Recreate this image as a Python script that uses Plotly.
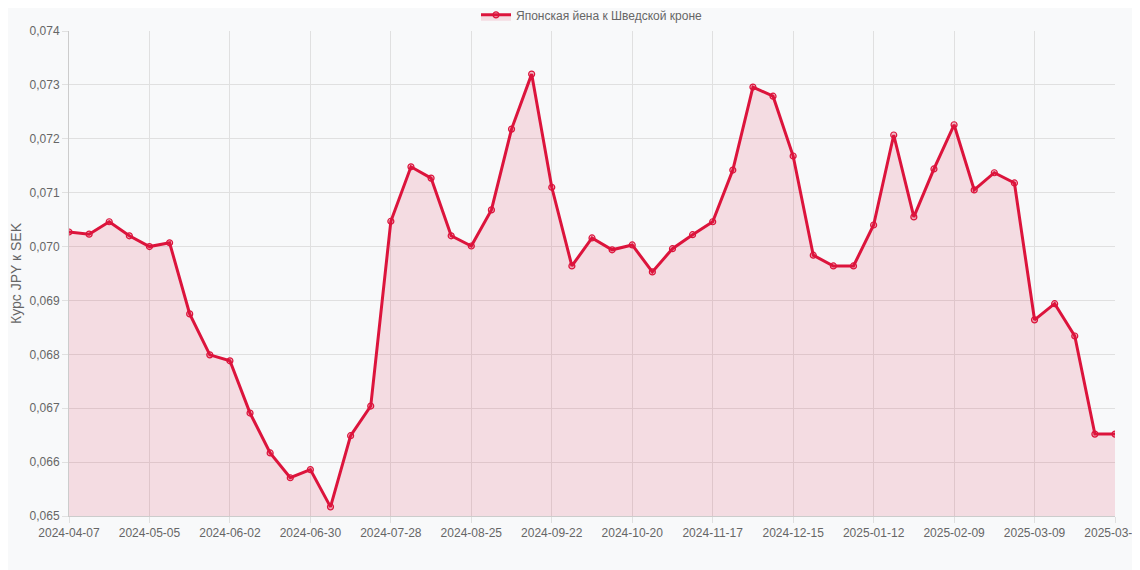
import datetime as dt
import plotly.graph_objects as go

# Курс JPY к SEK, недельные значения
start = dt.date(2024, 4, 7)
dates = [(start + dt.timedelta(weeks=i)).isoformat() for i in range(52)] + ["2025-03-31"]

rates = [0.07027, 0.07023, 0.07046, 0.07020, 0.07000, 0.07007, 0.06875, 0.06799,
         0.06788, 0.06691, 0.06617, 0.06571, 0.06586, 0.06517, 0.06649, 0.06704,
         0.07047, 0.07148, 0.07127, 0.07020, 0.07001, 0.07068, 0.07218, 0.07320,
         0.07110, 0.06964, 0.07016, 0.06994, 0.07003, 0.06953, 0.06996, 0.07022,
         0.07046, 0.07142, 0.07296, 0.07279, 0.07168, 0.06984, 0.06964, 0.06964,
         0.07040, 0.07207, 0.07055, 0.07144, 0.07226, 0.07105, 0.07137, 0.07118,
         0.06864, 0.06894, 0.06834, 0.06652, 0.06652]

tick_labels = dates[::4] + [dates[-1]]

fig = go.Figure(go.Scatter(
    x=dates, y=rates, mode="lines+markers", name="Японская йена к Шведской кроне",
    line=dict(color="#dc143c", width=3),
    marker=dict(size=6, color="rgba(220,20,60,0.25)", line=dict(color="#dc143c", width=1.2)),
    fill="tozeroy", fillcolor="rgba(220,20,60,0.12)",
))

fig.update_layout(
    width=1140, height=570,
    margin=dict(l=61, r=33, t=23, b=62, autoexpand=False),
    paper_bgcolor="#f8f9fa", plot_bgcolor="#f8f9fa",
    font=dict(family="Arial, Liberation Sans, sans-serif", size=12, color="#666"),
    separators=",.",
    showlegend=True,
    legend=dict(orientation="h", x=0.5, xanchor="center", y=0.988, yanchor="middle",
                yref="container", font=dict(size=12, color="#666")),
)
fig.update_xaxes(type="category", tickvals=tick_labels, ticktext=tick_labels, tickangle=0,
                 showgrid=True, gridcolor="#e0e0e0", showline=True, linecolor="#ccc",
                 ticks="outside", tickcolor="#e0e0e0", ticklen=6, range=[0, len(dates) - 1],
                 automargin=False)
fig.update_yaxes(range=[0.065, 0.074], dtick=0.001, tickformat=".3f",
                 showgrid=True, gridcolor="#e0e0e0", showline=True, linecolor="#ccc",
                 ticks="outside", tickcolor="#e0e0e0", ticklen=6, automargin=False,
                 title=dict(text="Курс JPY к SEK", standoff=4), zeroline=False)

fig.write_html("out.html")
